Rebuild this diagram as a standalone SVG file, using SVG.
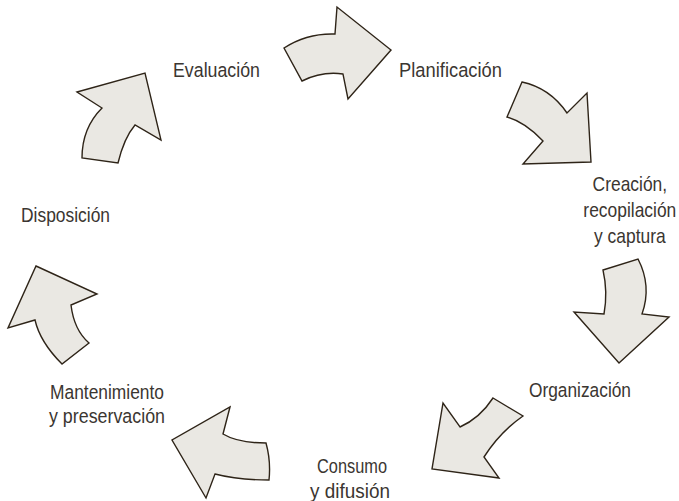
<svg xmlns="http://www.w3.org/2000/svg" width="679" height="501" viewBox="0 0 679 501">
<style>
.arr{fill:#EAE8E3;stroke:#2E2418;stroke-width:1.4;stroke-linejoin:miter}
.t{font-family:"Liberation Sans",Arial,sans-serif;font-size:20.5px;fill:#3B3631}
</style>
<rect width="679" height="501" fill="#FFFFFF"/>
<g id="connectors">
<path id="a1" class="arr" d="M284,48 Q307,33 335,34 L337,7 L391,50 L348,99 L343,74 Q322,71 302,81 Z"/>
<path id="a2" class="arr" d="M522,82 Q550,88 567,113 L587,93 L591,162 L523,164 L543,141 Q525,122 507,117 Z"/>
<path id="a3" class="arr" d="M603,270 L638,259 Q652,286 642,314 L669,317 L619,363 L574,312 L604,314 Q608,292 603,270 Z"/>
<path id="a4" class="arr" d="M493,398 L523,416 Q500,432 484,457 L499,478 L432,469 L443,403 L460,427 Q480,418 493,398 Z"/>
<path id="a5" class="arr" d="M230,407 L223,434 Q238,443 266,443 Q271,461 269,480 Q238,480 215,474 L206,498 L172,440 Z"/>
<path id="a6" class="arr" d="M36,266 L97,294 L71,305 Q74,330 89,343 L62,364 Q40,342 35,320 L8,328 Z"/>
<path id="a7" class="arr" d="M77,92 L145,73 L161,140 L135,125 Q124,138 118,163 L82,158 Q82,128 102,108 Z"/>
</g>
<g id="n-evaluacion"><text class="t" x="173" y="77" textLength="87" lengthAdjust="spacingAndGlyphs">Evaluación</text></g>
<g id="n-planificacion"><text class="t" x="399" y="77" textLength="103" lengthAdjust="spacingAndGlyphs">Planificación</text></g>
<g id="n-creacion" transform="scale(0.85,1)">
<text class="t" x="741" y="191" text-anchor="middle">Creación,</text>
<text class="t" x="741" y="217" text-anchor="middle">recopilación</text>
<text class="t" x="741" y="243" text-anchor="middle">y captura</text>
</g>
<g id="n-organizacion"><text class="t" x="529" y="397" textLength="102" lengthAdjust="spacingAndGlyphs">Organización</text></g>
<g id="n-consumo">
<text class="t" x="317" y="473" textLength="70" lengthAdjust="spacingAndGlyphs">Consumo</text>
<text class="t" x="310" y="498" textLength="80" lengthAdjust="spacingAndGlyphs">y difusión</text>
</g>
<g id="n-mantenimiento">
<text class="t" x="50" y="399" textLength="114" lengthAdjust="spacingAndGlyphs">Mantenimiento</text>
<text class="t" x="49" y="423" textLength="116" lengthAdjust="spacingAndGlyphs">y preservación</text>
</g>
<g id="n-disposicion"><text class="t" x="21" y="222" textLength="89" lengthAdjust="spacingAndGlyphs">Disposición</text></g>
</svg>
